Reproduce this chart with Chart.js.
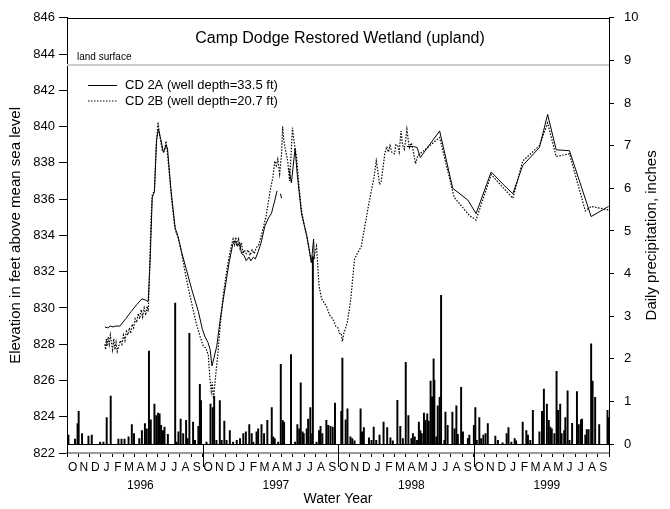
<!DOCTYPE html>
<html>
<head>
<meta charset="utf-8">
<script src="https://cdn.jsdelivr.net/npm/chart.js@4.4.0/dist/chart.umd.min.js"></script>
<style>
  html, body { margin: 0; padding: 0; background: #fff; }
  canvas { display: block; }
</style>
</head>
<body>
<canvas id="chart" width="670" height="509"></canvas>
<script>
// ---- Axis labels -------------------------------------------------------
const monthLetters = ['O','N','D','J','F','M','A','M','J','J','A','S'];
const waterYears = ['1996','1997','1998','1999'];
const elevTicks = [822,824,826,828,830,832,834,836,838,840,842,844,846];
const precipTicks = [0,1,2,3,4,5,6,7,8,9,10];
const landSurface = 843.4;

// ---- Water levels, feet above mean sea level (null = no record) -------
const cd2aDates = [
  '1996-01-12','1996-01-20','1996-01-27','1996-02-03','1996-02-10','1996-02-21','1996-03-07','1996-03-22',
  '1996-04-07','1996-04-20','1996-04-28','1996-05-07','1996-05-13','1996-05-18','1996-05-24','1996-05-30',
  '1996-06-04','1996-06-10','1996-06-17','1996-06-20','1996-06-24','1996-06-28','1996-07-07','1996-07-19',
  '1996-07-26','1996-08-06','1996-08-19','1996-09-02','1996-09-20','1996-10-01','1996-10-08','1996-10-16',
  '1996-10-22','1996-10-27','1996-11-01','1996-11-09','1996-11-19','1996-12-01','1996-12-12','1996-12-22',
  '1996-12-28','1997-01-04','1997-01-10','1997-01-15','1997-01-22','1997-01-28','1997-02-04','1997-02-09',
  '1997-02-15','1997-02-20','1997-02-27','1997-03-07','1997-03-17','1997-03-28','1997-04-04','1997-04-09',
  '1997-04-14','1997-04-19','1997-04-23','1997-04-28','1997-05-01','1997-05-10','1997-05-21','1997-05-28',
  '1997-06-07','1997-06-13','1997-06-24','1997-07-08','1997-07-21','1997-07-27','1997-07-29','1997-08-15',
  '1998-04-04','1998-04-22','1998-05-01','1998-05-10','1998-07-01','1998-08-06','1998-09-16','1998-10-08',
  '1998-11-18','1998-12-23','1999-01-16','1999-02-11','1999-03-27','1999-04-18','1999-05-11','1999-06-16',
  '1999-08-14','1999-09-30'
];
const cd2aElev = [
  828.95,828.9,829.0,828.95,829.0,829.0,829.4,829.8,
  830.2,830.5,830.45,830.35,833.0,836.1,836.4,839.3,
  839.85,839.3,838.6,838.7,839.0,838.8,836.6,834.4,
  834.0,833.05,832.1,831.05,829.8,828.8,828.4,828.1,
  827.7,826.8,827.2,827.9,829.5,831.1,832.5,833.5,
  833.7,833.4,833.6,833.0,832.9,832.6,832.8,832.6,
  832.8,832.7,833.1,833.6,834.5,835.0,835.2,835.6,
  836.0,836.45,null,836.3,836.05,null,837.7,836.9,
  838.8,837.3,835.2,834.0,832.5,833.8,832.7,null,
  838.9,838.9,838.85,838.3,839.76,836.6,835.95,835.2,
  837.5,836.76,836.3,837.85,838.85,840.67,838.72,838.67,
  835.04,835.6
];

const cd2bDates = [
  '1996-01-12','1996-01-14','1996-01-16','1996-01-18','1996-01-21','1996-01-24','1996-01-27','1996-01-30',
  '1996-02-02','1996-02-05','1996-02-08','1996-02-11','1996-02-14','1996-02-18','1996-02-22','1996-02-26',
  '1996-03-01','1996-03-05','1996-03-09','1996-03-13','1996-03-17','1996-03-21','1996-03-25','1996-03-29',
  '1996-04-02','1996-04-06','1996-04-10','1996-04-14','1996-04-18','1996-04-22','1996-04-26','1996-04-30',
  '1996-05-04','1996-05-07','1996-05-10','1996-05-14','1996-05-18','1996-05-24','1996-05-29','1996-06-03',
  '1996-06-06','1996-06-10','1996-06-14','1996-06-18','1996-06-21','1996-06-24','1996-06-27','1996-07-03',
  '1996-07-10','1996-07-17','1996-07-21','1996-07-27','1996-08-05','1996-08-15','1996-08-25','1996-09-05',
  '1996-09-15','1996-09-25','1996-10-03','1996-10-10','1996-10-17','1996-10-21','1996-10-25','1996-10-28',
  '1996-10-31','1996-11-03','1996-11-07','1996-11-12','1996-11-18','1996-11-25','1996-12-02','1996-12-10',
  '1996-12-18','1996-12-23','1996-12-27','1996-12-30','1997-01-03','1997-01-07','1997-01-11','1997-01-15',
  '1997-01-19','1997-01-23','1997-01-28','1997-02-02','1997-02-07','1997-02-12','1997-02-17','1997-02-22',
  '1997-03-01','1997-03-10','1997-03-20','1997-04-01','1997-04-08','1997-04-13','1997-04-17','1997-04-21',
  '1997-04-26','1997-05-01','1997-05-04','1997-05-07','1997-05-11','1997-05-14','1997-05-18','1997-05-23',
  '1997-05-27','1997-05-31','1997-06-04','1997-06-11','1997-06-17','1997-06-24','1997-07-01','1997-07-08',
  '1997-07-15','1997-07-21','1997-07-27','1997-08-04','1997-08-11','1997-08-18','1997-08-31','1997-09-09',
  '1997-09-17','1997-09-25','1997-10-01','1997-10-05','1997-10-10','1997-10-13','1997-10-17','1997-10-22',
  '1997-10-27','1997-11-05','1997-11-15','1997-11-22','1997-12-03','1997-12-10','1997-12-17','1997-12-24',
  '1997-12-31','1998-01-07','1998-01-13','1998-01-17','1998-01-22','1998-01-27','1998-02-05','1998-02-10',
  '1998-02-14','1998-02-18','1998-02-22','1998-03-01','1998-03-05','1998-03-10','1998-03-14','1998-03-19',
  '1998-03-23','1998-03-28','1998-04-01','1998-04-04','1998-04-08','1998-04-11','1998-04-16','1998-04-20',
  '1998-04-27','1998-05-03','1998-07-01','1998-08-10','1998-09-20','1998-10-08','1998-11-18','1999-01-16',
  '1999-02-11','1999-03-27','1999-04-18','1999-05-11','1999-06-16','1999-07-29','1999-08-14','1999-09-30'
];
const cd2bElev = [
  828.0,827.7,828.3,827.9,828.4,828.0,828.5,828.1,
  827.7,828.3,827.7,828.1,827.6,827.9,828.2,828.0,
  828.5,828.2,828.7,828.5,828.9,828.6,829.1,828.9,
  829.4,829.2,829.7,829.4,829.9,829.5,830.0,829.6,
  830.1,829.8,831.5,834.5,836.2,836.5,839.0,840.25,
  839.7,839.2,838.7,838.6,838.8,839.2,838.7,837.4,
  835.8,834.6,834.2,833.9,833.1,832.0,831.0,830.0,
  829.1,828.4,827.9,827.8,827.4,826.2,825.4,825.9,
  825.0,825.6,826.5,827.5,829.0,830.5,831.6,832.6,
  833.4,833.8,833.5,833.9,833.5,833.8,833.3,833.6,
  833.0,833.2,833.0,833.2,832.9,833.2,833.0,833.3,
  833.5,834.2,835.0,836.5,837.2,838.1,837.85,838.2,
  837.4,838.5,840.0,839.3,838.8,838.5,838.1,837.0,
  838.4,839.94,839.2,838.3,836.8,835.4,834.6,834.0,
  833.2,832.5,832.7,833.4,831.2,830.5,830.1,829.6,
  829.4,829.0,828.9,828.6,828.6,828.15,828.6,828.9,
  829.24,830.5,832.7,833.0,833.4,834.2,835.0,835.8,
  836.5,837.2,838.1,837.6,836.8,837.0,838.5,838.9,
  838.6,838.95,838.6,838.5,839.0,838.95,838.6,839.75,
  839.0,838.75,839.3,839.85,839.2,838.85,839.1,838.75,
  837.95,838.4,839.4,836.1,835.1,834.85,837.35,836.05,
  838.1,838.95,840.2,838.35,838.5,835.35,835.6,835.4
];

// ---- Daily precipitation, inches ----------------------------------------
const precipDates = [
  '1995-10-05','1995-10-23','1995-10-30','1995-11-02','1995-11-11','1995-11-28','1995-12-07','1995-12-30',
  '1996-01-08','1996-01-17','1996-01-28','1996-02-17','1996-02-25','1996-03-04','1996-03-15','1996-03-24',
  '1996-03-30','1996-04-13','1996-04-20','1996-04-28','1996-05-03','1996-05-09','1996-05-14','1996-05-24',
  '1996-05-29','1996-06-03','1996-06-07','1996-06-11','1996-06-16','1996-06-20','1996-06-29','1996-07-19',
  '1996-07-23','1996-07-28','1996-08-03','1996-08-10','1996-08-18','1996-08-22','1996-08-27','1996-09-06',
  '1996-09-11','1996-09-20','1996-09-24','1996-09-27','1996-10-12','1996-10-23','1996-10-29','1996-11-02',
  '1996-11-08','1996-11-17','1996-11-22','1996-11-29','1996-12-05','1996-12-14','1996-12-23','1997-01-02',
  '1997-01-11','1997-01-20','1997-01-27','1997-02-05','1997-02-11','1997-02-15','1997-02-23','1997-02-27',
  '1997-03-08','1997-03-15','1997-03-24','1997-04-05','1997-04-09','1997-04-13','1997-04-22','1997-04-29',
  '1997-05-04','1997-05-08','1997-05-27','1997-06-07','1997-06-13','1997-06-18','1997-06-22','1997-06-27',
  '1997-06-30','1997-07-08','1997-07-12','1997-07-18','1997-07-23','1997-07-25','1997-08-04','1997-08-11',
  '1997-08-15','1997-08-20','1997-08-31','1997-09-05','1997-09-11','1997-09-17','1997-09-23','1997-10-10',
  '1997-10-13','1997-10-22','1997-10-27','1997-11-04','1997-11-09','1997-11-15','1997-12-01','1997-12-05',
  '1997-12-10','1997-12-24','1997-12-31','1998-01-06','1998-01-13','1998-01-22','1998-02-02','1998-02-11',
  '1998-02-19','1998-02-25','1998-03-09','1998-03-17','1998-03-24','1998-04-01','1998-04-08','1998-04-16',
  '1998-04-20','1998-04-25','1998-05-01','1998-05-06','1998-05-10','1998-05-14','1998-05-20','1998-05-24',
  '1998-05-29','1998-06-02','1998-06-07','1998-06-11','1998-06-15','1998-06-17','1998-06-22','1998-06-26',
  '1998-07-01','1998-07-05','1998-07-14','1998-07-17','1998-07-23','1998-08-05','1998-08-11','1998-08-16',
  '1998-08-20','1998-08-29','1998-09-03','1998-09-16','1998-09-20','1998-10-02','1998-10-06','1998-10-10',
  '1998-10-17','1998-10-22','1998-10-28','1998-11-03','1998-11-09','1998-11-29','1998-12-06','1998-12-19',
  '1998-12-30','1999-01-04','1999-01-12','1999-01-21','1999-01-25','1999-02-11','1999-02-20','1999-02-24',
  '1999-03-02','1999-03-09','1999-03-27','1999-04-03','1999-04-08','1999-04-16','1999-04-21','1999-04-25',
  '1999-04-29','1999-05-06','1999-05-12','1999-05-16','1999-05-22','1999-05-26','1999-06-02','1999-06-05',
  '1999-06-11','1999-06-16','1999-06-23','1999-07-06','1999-07-11','1999-07-17','1999-07-20','1999-07-29',
  '1999-08-02','1999-08-07','1999-08-14','1999-08-18','1999-08-25','1999-09-05','1999-09-27','1999-09-30'
];
const precipInches = [
  0.21,0.12,0.48,0.77,0.25,0.19,0.21,0.05,
  0.05,0.62,1.13,0.12,0.12,0.12,0.17,0.46,
  0.25,0.13,0.32,0.48,0.36,2.18,0.57,0.94,
  0.67,0.73,0.71,0.44,0.32,0.40,0.23,3.31,
  0.05,0.29,0.59,0.25,0.56,0.13,2.60,0.52,
  0.09,0.42,1.40,1.02,0.05,0.94,0.86,1.13,
  0.09,1.02,0.09,0.54,0.09,0.32,0.05,0.09,
  0.13,0.25,0.29,0.46,0.25,0.05,0.29,0.36,
  0.46,0.25,0.56,0.86,0.17,0.13,0.05,1.87,
  0.56,0.52,2.10,0.05,0.46,0.36,1.44,0.29,
  0.25,0.36,0.59,0.86,0.25,4.40,0.05,0.32,
  0.42,0.25,0.56,0.44,0.42,0.40,0.96,0.77,
  2.02,0.57,0.83,0.17,0.13,0.08,0.83,0.29,
  0.39,0.15,0.09,0.40,0.09,0.21,0.52,0.39,
  0.15,0.08,1.03,0.42,0.13,1.92,0.67,0.13,
  0.25,0.17,0.09,0.52,0.32,0.25,0.73,0.56,
  0.71,0.54,1.48,1.11,2.00,1.50,0.17,0.90,
  1.10,3.49,0.09,0.75,0.44,0.75,0.36,0.90,
  0.23,1.33,0.29,0.13,0.21,0.44,0.86,0.09,
  0.62,0.13,0.21,0.25,0.48,0.19,0.09,0.03,
  0.25,0.39,0.05,0.13,0.08,0.52,0.32,0.21,
  0.09,0.79,0.29,0.77,1.29,0.94,0.56,0.40,
  0.36,0.25,1.71,0.79,0.94,0.25,0.32,0.62,
  1.25,0.09,0.49,1.23,0.46,0.57,0.59,0.21,
  0.34,0.34,2.35,1.48,1.10,0.46,0.79,0.62
];

// Position along the time axis in months since 1 October 1995.
function monthPos(s) {
  const [y, m, d] = s.split('-').map(Number);
  const dim = new Date(y, m, 0).getDate();
  return (y - 1995) * 12 + (m - 10) + (d - 1) / dim;
}
const toPoints = (dates, vals) => dates.map((d, i) => ({ x: monthPos(d), y: vals[i] }));

const FONT = "'Liberation Sans', Arial, Helvetica, sans-serif";
const totalMonths = waterYears.length * 12;

// Frame, zero line, year separators, title, legend and right-hand axis title.
const decorations = {
  id: 'decorations',
  afterDatasetsDraw(chart) {
    const { ctx, chartArea: a, scales } = chart;
    const xs = scales.x, yL = scales.y, yR = scales.yR;
    ctx.save();
    ctx.strokeStyle = '#000';
    ctx.lineWidth = 1;
    ctx.beginPath();
    ctx.moveTo(a.left, Math.round(a.top) + 0.5);
    ctx.lineTo(a.right, Math.round(a.top) + 0.5);
    const y0 = Math.round(yR.getPixelForValue(0)) + 0.5;
    ctx.moveTo(a.left, y0);
    ctx.lineTo(a.right, y0);
    for (let i = 1; i < waterYears.length; i++) {
      const px = Math.round(xs.getPixelForValue(i * 12)) + 0.5;
      ctx.moveTo(px, y0);
      ctx.lineTo(px, a.bottom + 14);
    }
    ctx.stroke();

    // land surface label
    ctx.fillStyle = '#000';
    ctx.font = '10px ' + FONT;
    ctx.textAlign = 'left';
    ctx.textBaseline = 'middle';
    ctx.fillText('land surface', a.left + 10, yL.getPixelForValue(landSurface) - 8);

    // chart title
    ctx.font = '16px ' + FONT;
    ctx.textAlign = 'center';
    ctx.fillText('Camp Dodge Restored Wetland (upland)', 340, 39);

    // legend
    const items = chart.data.datasets.filter(d => d.inLegend);
    items.forEach((d, i) => {
      const ly = 85 + i * 15.5;
      ctx.save();
      ctx.strokeStyle = d.borderColor;
      ctx.lineWidth = d.borderWidth;
      ctx.setLineDash(d.borderDash || []);
      ctx.beginPath();
      ctx.moveTo(88, ly + 0.5);
      ctx.lineTo(117, ly + 0.5);
      ctx.stroke();
      ctx.restore();
      ctx.font = '13px ' + FONT;
      ctx.textAlign = 'left';
      ctx.fillText(d.label, 125, ly + 0.5);
    });

    // right axis title, reading upward
    ctx.save();
    ctx.translate(652, (a.top + a.bottom) / 2);
    ctx.rotate(-Math.PI / 2);
    ctx.font = '15px ' + FONT;
    ctx.textAlign = 'center';
    ctx.fillText('Daily precipitation, inches', 0, 0);
    ctx.restore();
    ctx.restore();
  }
};

new Chart(document.getElementById('chart'), {
  type: 'line',
  data: {
    datasets: [
      {
        label: 'CD 2A (well depth=33.5 ft)',
        inLegend: true,
        data: toPoints(cd2aDates, cd2aElev),
        yAxisID: 'y',
        borderColor: '#000',
        borderWidth: 1,
        pointRadius: 0,
        spanGaps: false,
        order: 1
      },
      {
        label: 'CD 2B (well depth=20.7 ft)',
        inLegend: true,
        data: toPoints(cd2bDates, cd2bElev),
        yAxisID: 'y',
        borderColor: '#000',
        borderWidth: 1.2,
        borderDash: [1.5, 1.5],
        pointRadius: 0,
        order: 0
      },
      {
        label: 'land surface',
        data: [{ x: 0, y: landSurface }, { x: totalMonths, y: landSurface }],
        yAxisID: 'y',
        borderColor: '#cccccc',
        borderWidth: 2,
        pointRadius: 0,
        order: 3
      },
      {
        type: 'bar',
        label: 'Daily precipitation',
        data: toPoints(precipDates, precipInches),
        yAxisID: 'yR',
        backgroundColor: '#000',
        borderWidth: 0,
        barThickness: 1.3,
        grouped: false,
        order: 2
      }
    ]
  },
  options: {
    responsive: false,
    animation: false,
    devicePixelRatio: 1,
    layout: { padding: { top: 12, left: 0, right: 0, bottom: 0 } },
    plugins: { legend: { display: false }, tooltip: { enabled: false } },
    scales: {
      x: {
        type: 'linear',
        position: 'bottom',
        min: 0,
        max: totalMonths,
        offset: false,
        afterBuildTicks: s => { s.ticks = Array.from({ length: totalMonths + 1 }, (_, i) => ({ value: i })); },
        afterFit: s => { s.height = 56; },
        grid: { drawOnChartArea: false, drawTicks: true, tickLength: 4, color: '#000', offset: false },
        border: { display: true, color: '#9a9a9a', width: 2 },
        ticks: {
          autoSkip: false,
          maxRotation: 0,
          minRotation: 0,
          padding: 2,
          labelOffset: 5.65,
          color: '#000',
          font: { family: FONT, size: 12, lineHeight: 1.5 },
          callback: (v, i) => {
            if (i >= totalMonths) return '';
            const letter = monthLetters[i % 12];
            return (i % 12 === 6) ? [letter, waterYears[Math.floor(i / 12)]] : letter;
          }
        },
        title: { display: true, text: 'Water Year', color: '#000', font: { family: FONT, size: 14 }, padding: { top: 0, bottom: 1 } }
      },
      y: {
        type: 'linear',
        position: 'left',
        min: 822,
        max: 846,
        afterBuildTicks: s => { s.ticks = elevTicks.map(v => ({ value: v })); },
        afterFit: s => { s.width = 67; },
        grid: { drawOnChartArea: false, drawTicks: true, tickLength: 8, color: '#000' },
        border: { display: true, color: '#000', width: 1 },
        ticks: { padding: 4, color: '#000', font: { family: FONT, size: 13 } },
        title: { display: true, text: 'Elevation in feet above mean sea level', color: '#000', font: { family: FONT, size: 15 }, padding: { top: 7, bottom: 0 } }
      },
      yR: {
        type: 'linear',
        position: 'right',
        min: -0.208,
        max: 10,
        afterBuildTicks: s => { s.ticks = precipTicks.map(v => ({ value: v })); },
        afterFit: s => { s.width = 61; },
        grid: { drawOnChartArea: false, drawTicks: true, tickLength: 5, color: '#000' },
        border: { display: true, color: '#000', width: 1 },
        ticks: { padding: 10, color: '#000', font: { family: FONT, size: 13 } }
      }
    }
  },
  plugins: [decorations]
});
</script>
</body>
</html>
